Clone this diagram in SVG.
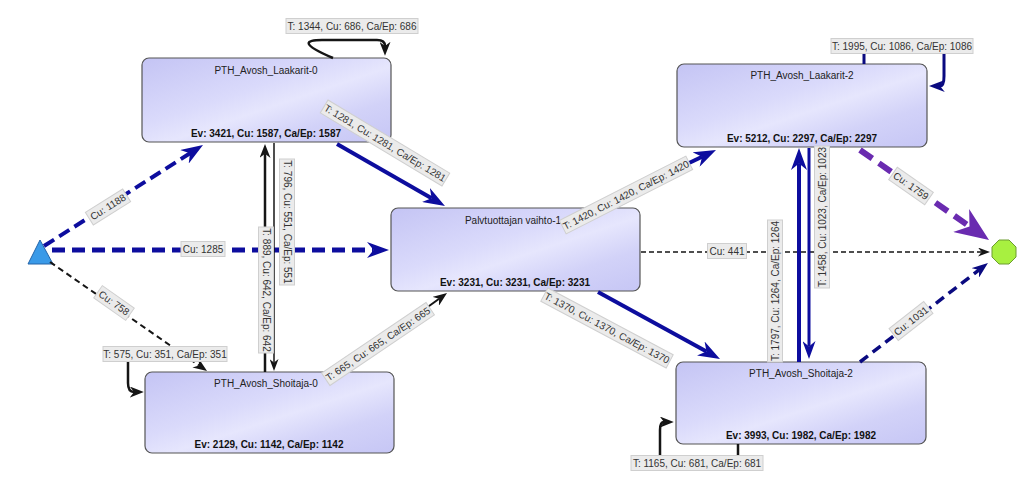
<svg xmlns="http://www.w3.org/2000/svg" width="1024" height="480" viewBox="0 0 1024 480">
<style>
.node rect{stroke:#555;stroke-width:1.2;fill:url(#ng)}
.title{font-family:"Liberation Sans",Arial,sans-serif;font-size:10px;fill:#222;text-anchor:middle}
.stats{font-family:"Liberation Sans",Arial,sans-serif;font-size:10px;font-weight:bold;fill:#111;text-anchor:middle}
.lbl rect{fill:#ebebeb;stroke:#cfcfcf;stroke-width:1}
.lbl text{font-family:"Liberation Sans",Arial,sans-serif;font-size:10px;fill:#333;text-anchor:middle}
.e{fill:none}
.blue{stroke:#0d0d9e}
.navy{stroke:#0a0a80}
.blk{stroke:#151515}
.pur{stroke:#6a2bb0}
</style>
<defs>
<linearGradient id="ng" x1="0" y1="0" x2="1" y2="1">
<stop offset="0" stop-color="#c4c4f4"/>
<stop offset="0.4" stop-color="#dadafb"/>
<stop offset="0.55" stop-color="#e6e6fd"/>
<stop offset="0.75" stop-color="#d2d2f8"/>
<stop offset="1" stop-color="#c6c6f5"/>
</linearGradient>
<marker id="mBlue" viewBox="0 0 10 10" refX="3" refY="5" markerUnits="userSpaceOnUse" markerWidth="22" markerHeight="16" orient="auto" preserveAspectRatio="none"><path d="M0,0 L10,5 L0,10 L3,5 Z" fill="#0d0d9e"/></marker>
<marker id="mBlueM" viewBox="0 0 10 10" refX="3" refY="5" markerUnits="userSpaceOnUse" markerWidth="18" markerHeight="13" orient="auto" preserveAspectRatio="none"><path d="M0,0 L10,5 L0,10 L3,5 Z" fill="#0d0d9e"/></marker>
<marker id="mNavy" viewBox="0 0 10 10" refX="3" refY="5" markerUnits="userSpaceOnUse" markerWidth="16" markerHeight="12" orient="auto" preserveAspectRatio="none"><path d="M0,0 L10,5 L0,10 L3,5 Z" fill="#0a0a80"/></marker>
<marker id="mPur" viewBox="0 0 10 10" refX="3" refY="5" markerUnits="userSpaceOnUse" markerWidth="34" markerHeight="28" orient="auto" preserveAspectRatio="none"><path d="M0,0 L10,5 L0,10 L3,5 Z" fill="#6a2bb0"/></marker>
<marker id="mBlk" viewBox="0 0 10 10" refX="3" refY="5" markerUnits="userSpaceOnUse" markerWidth="14" markerHeight="11" orient="auto" preserveAspectRatio="none"><path d="M0,0 L10,5 L0,10 L3,5 Z" fill="#151515"/></marker>
<marker id="mBlkS" viewBox="0 0 10 10" refX="3" refY="5" markerUnits="userSpaceOnUse" markerWidth="12" markerHeight="9" orient="auto" preserveAspectRatio="none"><path d="M0,0 L10,5 L0,10 L3,5 Z" fill="#151515"/></marker>
</defs>
<rect width="1024" height="480" fill="#ffffff"/>

<g id="start"><polygon points="40,240 28,264 53,264" fill="#3a9ae8" stroke="#2464a8" stroke-width="1"/></g>
<g id="end"><polygon points="1016,247 1009,240 999,240 992,247 992,257 999,264 1009,264 1016,257" fill="#a8f040" stroke="#6c9c30" stroke-width="1"/></g>

<g id="laakarit0" class="node"><rect x="142" y="58" width="249" height="84" rx="7"/><text class="title" x="266" y="74">PTH_Avosh_Laakarit-0</text><text class="stats" x="266" y="137">Ev: 3421, Cu: 1587, Ca/Ep: 1587</text></g>
<g id="laakarit2" class="node"><rect x="677" y="64" width="250" height="83" rx="7"/><text class="title" x="802" y="79">PTH_Avosh_Laakarit-2</text><text class="stats" x="802" y="142">Ev: 5212, Cu: 2297, Ca/Ep: 2297</text></g>
<g id="palv1" class="node"><rect x="391" y="208" width="249" height="83" rx="7"/><text class="title" x="513" y="224">Palvtuottajan vaihto-1</text><text class="stats" x="515" y="286">Ev: 3231, Cu: 3231, Ca/Ep: 3231</text></g>
<g id="shoitaja0" class="node"><rect x="145" y="372" width="249" height="81" rx="7"/><text class="title" x="266" y="387">PTH_Avosh_Shoitaja-0</text><text class="stats" x="269" y="448">Ev: 2129, Cu: 1142, Ca/Ep: 1142</text></g>
<g id="shoitaja2" class="node"><rect x="676" y="362" width="250" height="82" rx="7"/><text class="title" x="801" y="377">PTH_Avosh_Shoitaja-2</text><text class="stats" x="801" y="439">Ev: 3993, Cu: 1982, Ca/Ep: 1982</text></g>

<g id="connectors">
<path class="e blue" d="M44,246 L190,153.3" stroke-width="4" stroke-dasharray="12,6" marker-end="url(#mBlue)"/>
<path class="e blue" d="M52,250 L373.6,250" stroke-width="5" stroke-dasharray="13,7" marker-end="url(#mBlue)"/>
<path class="e blk" d="M50,262 L199,365.4" stroke-width="2" stroke-dasharray="6,4" marker-end="url(#mBlk)"/>
<path class="e blk" d="M333,58 C300,44 305,40 322,40 L377,40 Q385,40 385,46" stroke-width="2.5" marker-end="url(#mBlk)"/>
<path class="e blue" d="M337,144 L431.6,198.3" stroke-width="4" marker-end="url(#mBlue)"/>
<path class="e blk" d="M265,372 L265,153.8" stroke-width="2.5" marker-end="url(#mBlk)"/>
<path class="e blk" d="M274,143 L274,362.6" stroke-width="1.5" marker-end="url(#mBlkS)"/>
<path class="e blk" d="M128,356 L128,383 Q128,392 134,392" stroke-width="2.5" marker-end="url(#mBlk)"/>
<path class="e blk" d="M338,372 L439.1,298.8" stroke-width="2" marker-end="url(#mBlk)"/>
<path class="e blue" d="M595,208 L702.1,156.7" stroke-width="4" marker-end="url(#mBlue)"/>
<path class="e blk" d="M641,252 L981.6,252" stroke-width="1.5" stroke-dasharray="5,3" marker-end="url(#mBlkS)"/>
<path class="e blue" d="M598,292 L706.5,351.6" stroke-width="4" marker-end="url(#mBlue)"/>
<path class="e navy" d="M864,54 L864,64" stroke-width="3"/>
<path class="e navy" d="M944,54 L944,76 Q944,86 940,86" stroke-width="3" marker-end="url(#mNavy)"/>
<path class="e pur" d="M860,150 L969.5,226.4" stroke-width="6" stroke-dasharray="15,8" marker-end="url(#mPur)"/>
<path class="e blue" d="M799,362 L799,163.4" stroke-width="4" marker-end="url(#mBlue)"/>
<path class="e blue" d="M809,148 L809,346.4" stroke-width="3" marker-end="url(#mBlueM)"/>
<path class="e navy" d="M860,362 L979.1,269.9" stroke-width="3.5" stroke-dasharray="10,6" marker-end="url(#mNavy)"/>
<path class="e blk" d="M660,456 L660,430 Q660,422 664,422" stroke-width="2.5" marker-end="url(#mBlk)"/>
<path class="e blk" d="M738,444 L738,456" stroke-width="2.5"/>

<g class="lbl" transform="translate(108,207) rotate(-32)"><rect x="-22" y="-7.5" width="44" height="15"/><text y="3.5">Cu: 1188</text></g>
<g class="lbl" transform="translate(203,249)"><rect x="-22" y="-7.5" width="44" height="15"/><text y="3.5">Cu: 1285</text></g>
<g class="lbl" transform="translate(114,303) rotate(35)"><rect x="-19.5" y="-7.5" width="39" height="15"/><text y="3.5">Cu: 758</text></g>
<g class="lbl" transform="translate(352,26)"><rect x="-66" y="-7.5" width="132" height="15"/><text y="3.5">T: 1344, Cu: 686, Ca/Ep: 686</text></g>
<g class="lbl" transform="translate(385,143) rotate(31)"><rect x="-71" y="-7.5" width="142" height="15"/><text y="3.5">T: 1281, Cu: 1281, Ca/Ep: 1281</text></g>
<g class="lbl" transform="translate(266,290) rotate(90)"><rect x="-63" y="-7.5" width="126" height="15"/><text y="3.5">T: 889, Cu: 642, Ca/Ep: 642</text></g>
<g class="lbl" transform="translate(287,222) rotate(90)"><rect x="-63" y="-7.5" width="126" height="15"/><text y="3.5">T: 796, Cu: 551, Ca/Ep: 551</text></g>
<g class="lbl" transform="translate(165,354)"><rect x="-62" y="-7.5" width="124" height="15"/><text y="3.5">T: 575, Cu: 351, Ca/Ep: 351</text></g>
<g class="lbl" transform="translate(378,344) rotate(-34)"><rect x="-63" y="-7.5" width="126" height="15"/><text y="3.5">T: 665, Cu: 665, Ca/Ep: 665</text></g>
<g class="lbl" transform="translate(626,195) rotate(-27)"><rect x="-71" y="-7.5" width="142" height="15"/><text y="3.5">T: 1420, Cu: 1420, Ca/Ep: 1420</text></g>
<g class="lbl" transform="translate(727,251)"><rect x="-19.5" y="-7.5" width="39" height="15"/><text y="3.5">Cu: 441</text></g>
<g class="lbl" transform="translate(607,328) rotate(28)"><rect x="-71" y="-7.5" width="142" height="15"/><text y="3.5">T: 1370, Cu: 1370, Ca/Ep: 1370</text></g>
<g class="lbl" transform="translate(902,46)"><rect x="-71" y="-7.5" width="142" height="15"/><text y="3.5">T: 1995, Cu: 1086, Ca/Ep: 1086</text></g>
<g class="lbl" transform="translate(911,186) rotate(35)"><rect x="-22" y="-7.5" width="44" height="15"/><text y="3.5">Cu: 1759</text></g>
<g class="lbl" transform="translate(775,291) rotate(-90)"><rect x="-71" y="-7.5" width="142" height="15"/><text y="3.5">T: 1797, Cu: 1264, Ca/Ep: 1264</text></g>
<g class="lbl" transform="translate(822,217) rotate(-90)"><rect x="-71" y="-7.5" width="142" height="15"/><text y="3.5">T: 1458, Cu: 1023, Ca/Ep: 1023</text></g>
<g class="lbl" transform="translate(911,321) rotate(-38)"><rect x="-22" y="-7.5" width="44" height="15"/><text y="3.5">Cu: 1031</text></g>
<g class="lbl" transform="translate(697,463)"><rect x="-66" y="-7.5" width="132" height="15"/><text y="3.5">T: 1165, Cu: 681, Ca/Ep: 681</text></g>
</g>
</svg>
